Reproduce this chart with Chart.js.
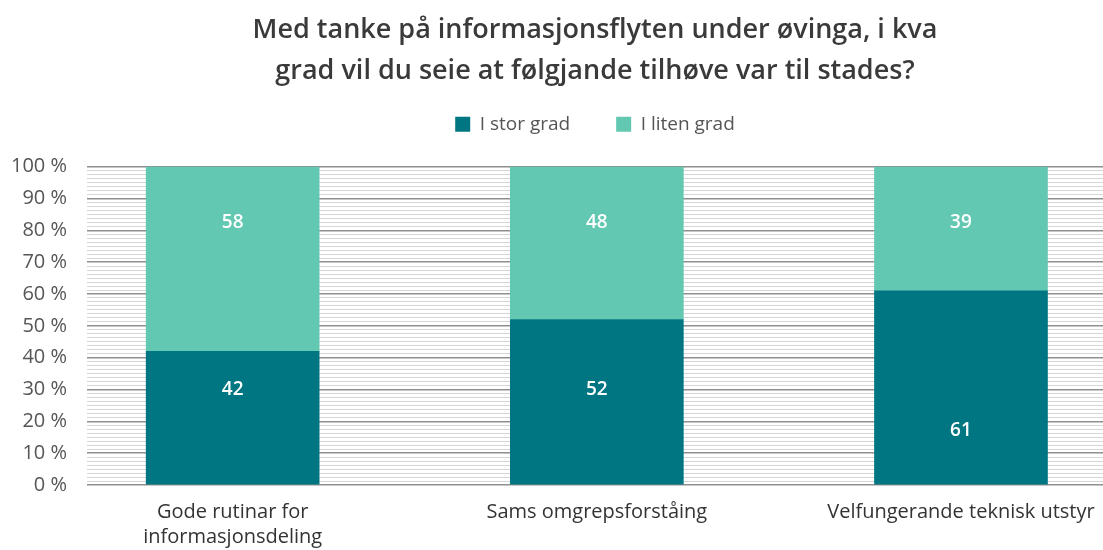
<!DOCTYPE html>
<html>
<head>
<meta charset="utf-8">
<script src="https://cdn.jsdelivr.net/npm/chart.js@4/dist/chart.umd.min.js"></script>
<style>
  html, body { margin: 0; padding: 0; background: #fff; }
  #wrap { width: 1103px; height: 550px; }
</style>
</head>
<body>
<div id="wrap"><canvas id="chart" width="1103" height="550"></canvas></div>
<script>
// Data
const categories = [
    ['Gode rutinar for', 'informasjonsdeling'],
    'Sams omgrepsforståing',
    'Velfungerande teknisk utstyr'
];
const seriesNames = ['I stor grad', 'I liten grad'];
const storGrad = [42, 52, 61];
const litenGrad = [58, 48, 39];
const seriesColors = ['#007683', '#63c8b2'];
const titleLines = [
    'Med tanke på informasjonsflyten under øvinga, i kva',
    'grad vil du seie at følgjande tilhøve var til stades?'
];

const FONT = '"Open Sans", "DejaVu Sans", sans-serif';

// Draws the white value labels inside the bar segments
const barLabels = {
    id: 'barLabels',
    beforeInit(chart) {
        // fixed legend block height so the plot starts where the reference does
        const legend = chart.legend;
        if (legend) {
            const fit = legend.fit;
            legend.fit = function () {
                fit.call(this);
                this.height = 98;
            };
        }
    },
    afterDatasetsDraw(chart, args, opts) {
        const ctx = chart.ctx;
        const yScale = chart.scales.y;
        ctx.save();
        ctx.fillStyle = '#ffffff';
        ctx.font = '600 19px ' + FONT;
        ctx.textAlign = 'center';
        ctx.textBaseline = 'middle';
        chart.data.datasets.forEach((ds, i) => {
            chart.getDatasetMeta(i).data.forEach((bar, j) => {
                const at = opts.anchors[i][j];
                ctx.fillText(String(ds.data[j].y), bar.x, yScale.getPixelForValue(at));
            });
        });
        ctx.restore();
    }
};

const toPoints = arr => arr.map((v, i) => ({ x: i + 1, y: v }));

new Chart(document.getElementById('chart'), {
    type: 'bar',
    data: {
        datasets: [
            {
                label: seriesNames[0],
                data: toPoints(storGrad),
                backgroundColor: seriesColors[0],
                barThickness: 173,
                borderWidth: 0
            },
            {
                label: seriesNames[1],
                data: toPoints(litenGrad),
                backgroundColor: seriesColors[1],
                barThickness: 173,
                borderWidth: 0
            }
        ]
    },
    options: {
        responsive: false,
        animation: false,
        devicePixelRatio: 1,
        layout: { padding: { top: 9, right: 0, bottom: 0, left: 0 } },
        plugins: {
            title: {
                display: true,
                text: titleLines,
                fullSize: false,
                color: '#3a3a3a',
                font: { family: FONT, size: 27, weight: '600', lineHeight: 1.55 },
                padding: { top: 0, bottom: -24 }
            },
            legend: {
                display: true,
                fullSize: false,
                labels: {
                    color: '#555555',
                    font: { family: FONT, size: 19 },
                    boxWidth: 15,
                    boxHeight: 15,
                    padding: 46
                }
            },
            tooltip: { enabled: false },
            barLabels: {
                anchors: [[30, 30, 17], [82.5, 82.5, 82.5]]
            }
        },
        scales: {
            x: {
                type: 'linear',
                stacked: true,
                offset: false,
                min: 0.6,
                max: 3.39,
                afterFit: scale => {
                    scale.height = 65;
                    scale.paddingLeft = 0;
                    scale.paddingRight = 0;
                },
                grid: { display: false },
                border: { display: false },
                ticks: {
                    stepSize: 1,
                    includeBounds: false,
                    autoSkip: false,
                    maxRotation: 0,
                    padding: 7,
                    color: '#333333',
                    font: { family: FONT, size: 20, lineHeight: 1.25 },
                    callback: v => (Number.isInteger(v) && categories[v - 1]) ? categories[v - 1] : ''
                }
            },
            y: {
                stacked: true,
                min: 0,
                max: 100,
                afterFit: scale => { scale.width = 87; },
                border: { display: false },
                grid: {
                    drawTicks: false,
                    color: c => (Math.abs(c.tick.value % 10) < 0.01 ? '#8f8f8f' : '#d6d6d6'),
                    lineWidth: c => (Math.abs(c.tick.value % 10) < 0.01 ? 1.5 : 1)
                },
                ticks: {
                    stepSize: 1.25,
                    autoSkip: false,
                    padding: 20,
                    color: '#555555',
                    font: { family: FONT, size: 20 },
                    callback: v => (Math.abs(v % 10) < 0.01 ? Math.round(v) + ' %' : '')
                }
            }
        }
    },
    plugins: [barLabels]
});
</script>
</body>
</html>
